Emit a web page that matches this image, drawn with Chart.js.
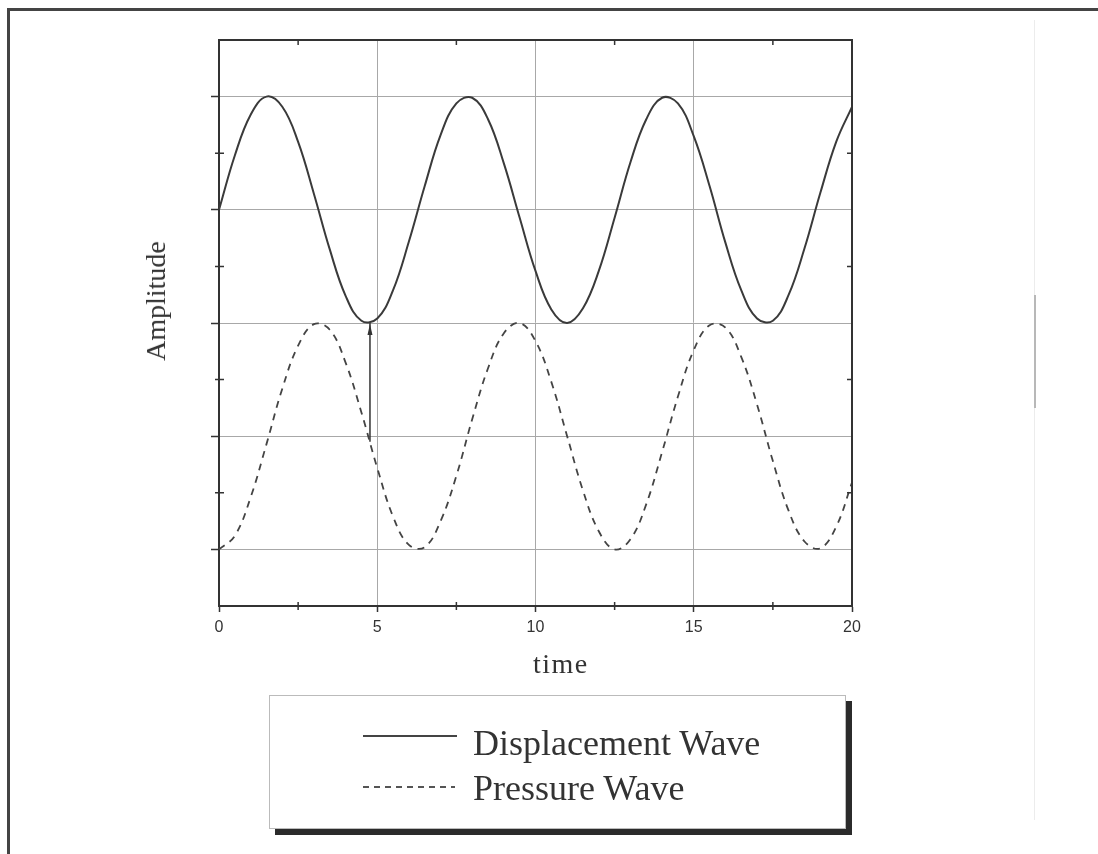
<!DOCTYPE html>
<html>
<head>
<meta charset="utf-8">
<script src="https://cdn.jsdelivr.net/npm/chart.js@4/dist/chart.umd.min.js"></script>
<style>
  html, body { margin: 0; padding: 0; background: #fff; }
  body { width: 1098px; height: 854px; position: relative; overflow: hidden; font-family: "Liberation Serif", "Times New Roman", serif; color: #333; }
  #frame { position: absolute; left: 7px; top: 8px; width: 1200px; height: 900px; border-top: 3px solid #444; border-left: 3px solid #444; }
  #scanLine { position: absolute; left: 1034px; top: 20px; width: 1px; height: 800px; background: #ececec; }
  #scanLineDark { position: absolute; left: 1034px; top: 295px; width: 2px; height: 113px; background: #b8b8b8; }
  canvas { position: absolute; left: 0; top: 0; }
  .txt { position: absolute; white-space: nowrap; color: #333; }
  #ampTitle { left: 155.5px; top: 301px; font-size: 28px; line-height: 28px; transform: translate(-50%, -50%) rotate(-90deg); }
  #timeTitle { left: 533px; top: 650px; font-size: 28px; line-height: 28px; letter-spacing: 1.5px; }
  #legendBox { position: absolute; left: 269px; top: 695px; width: 577px; height: 134px; box-sizing: border-box; border: 1px solid #bbb; box-shadow: 6px 6px 0 #2b2b2b; background: #fff; }
  .legText { font-size: 36px; line-height: 36px; left: 473px; }
  #solidSample { position: absolute; left: 363px; top: 735px; width: 94px; height: 2px; background: #444; }
  #dashSample { position: absolute; left: 363px; top: 786px; width: 92px; height: 2px; background: repeating-linear-gradient(90deg, #555 0 6px, transparent 6px 11px); }
</style>
</head>
<body>
<div id="frame"></div>
<div id="scanLine"></div>
<div id="scanLineDark"></div>
<canvas id="waveChart" width="1098" height="854"></canvas>
<div class="txt" id="ampTitle">Amplitude</div>
<div class="txt" id="timeTitle">time</div>
<div id="legendBox"></div>
<div id="solidSample"></div>
<div id="dashSample"></div>
<div class="txt legText" style="top:725px">Displacement Wave</div>
<div class="txt legText" style="top:770px">Pressure Wave</div>

<script>
// axis ticks
const timeTicks = [0, 5, 10, 15, 20];
const minorTimeTicks = [2.5, 7.5, 12.5, 17.5];
const ampGrid = [0, 1, 2, 3, 4];
const minorAmpTicks = [0.5, 1.5, 2.5, 3.5];

const timeSamples = [0, 0.5, 1, 1.5, 2, 2.5, 3, 3.5, 4, 4.5, 5, 5.5, 6, 6.5, 7, 7.5, 8, 8.5, 9, 9.5,
  10, 10.5, 11, 11.5, 12, 12.5, 13, 13.5, 14, 14.5, 15, 15.5, 16, 16.5, 17, 17.5, 18, 18.5, 19, 19.5, 20];
const displacement = [3.00, 3.48, 3.84, 4.00, 3.91, 3.60, 3.14, 2.65, 2.24, 2.02, 2.04, 2.29, 2.72, 3.21, 3.66, 3.94, 3.99, 3.80, 3.41, 2.93,
  2.46, 2.12, 2.00, 2.13, 2.46, 2.93, 3.42, 3.80, 3.99, 3.94, 3.65, 3.21, 2.71, 2.29, 2.04, 2.02, 2.25, 2.66, 3.15, 3.60, 3.91];
const pressure = [0.00, 0.12, 0.46, 0.93, 1.42, 1.80, 1.99, 1.94, 1.65, 1.21, 0.72, 0.29, 0.04, 0.02, 0.25, 0.65, 1.15, 1.60, 1.91, 2.00,
  1.84, 1.48, 1.00, 0.52, 0.16, 0.00, 0.09, 0.40, 0.86, 1.35, 1.76, 1.98, 1.96, 1.70, 1.28, 0.78, 0.34, 0.07, 0.01, 0.20, 0.59];

// the little arrow between the two waves
const markerTime = 4.77;
const markerSpan = [0.95, 2.0];

const pts = arr => timeSamples.map((t, i) => ({ x: t, y: arr[i] }));

// top/right frame, minor ticks, arrow head
const framePlugin = {
  id: "framePlugin",
  afterDatasetsDraw(chart) {
    const { ctx, chartArea: a, scales: { x, y } } = chart;
    ctx.save();
    ctx.strokeStyle = "#333";
    ctx.lineWidth = 2;
    ctx.beginPath();
    ctx.moveTo(a.left, a.top);
    ctx.lineTo(a.right, a.top);
    ctx.lineTo(a.right, a.bottom);
    ctx.stroke();

    ctx.lineWidth = 1.5;
    ctx.beginPath();
    minorTimeTicks.forEach(v => {
      const px = x.getPixelForValue(v);
      ctx.moveTo(px, a.bottom - 4); ctx.lineTo(px, a.bottom + 4);
      ctx.moveTo(px, a.top); ctx.lineTo(px, a.top + 5);
    });
    minorAmpTicks.forEach(v => {
      const py = y.getPixelForValue(v);
      ctx.moveTo(a.left - 4, py); ctx.lineTo(a.left + 5, py);
      ctx.moveTo(a.right - 5, py); ctx.lineTo(a.right, py);
    });
    ctx.stroke();

    const ax = x.getPixelForValue(markerTime);
    const ay = y.getPixelForValue(markerSpan[1]);
    ctx.fillStyle = "#333";
    ctx.beginPath();
    ctx.moveTo(ax, ay + 1);
    ctx.lineTo(ax - 2.5, ay + 12);
    ctx.lineTo(ax + 2.5, ay + 12);
    ctx.closePath();
    ctx.fill();
    ctx.restore();
  }
};

new Chart(document.getElementById("waveChart").getContext("2d"), {
  type: "line",
  data: {
    datasets: [
      {
        label: "Displacement Wave",
        data: pts(displacement),
        borderColor: "#3a3a3a",
        borderWidth: 2,
        pointRadius: 0,
        tension: 0.4
      },
      {
        label: "Pressure Wave",
        data: pts(pressure),
        borderColor: "#444",
        borderWidth: 1.8,
        borderDash: [7, 6],
        pointRadius: 0,
        tension: 0.4
      },
      {
        label: "marker",
        data: markerSpan.map(v => ({ x: markerTime, y: v })),
        borderColor: "#333",
        borderWidth: 1.5,
        pointRadius: 0
      }
    ]
  },
  options: {
    responsive: false,
    animation: false,
    devicePixelRatio: 1,
    layout: { padding: { left: 0, top: 40, right: 246, bottom: 168 } },
    plugins: { legend: { display: false }, tooltip: { enabled: false } },
    scales: {
      x: {
        type: "linear",
        min: 0,
        max: 20,
        afterBuildTicks: s => { s.ticks = timeTicks.map(v => ({ value: v })); },
        afterFit: s => { s.height = 80; },
        ticks: {
          color: "#333",
          padding: 6,
          font: { family: "'Liberation Sans', Arial, sans-serif", size: 16 }
        },
        grid: { color: "#a8a8a8", lineWidth: 1, drawTicks: true, tickLength: 6, tickColor: "#333", tickWidth: 1.5 },
        border: { display: true, color: "#333", width: 2 }
      },
      y: {
        type: "linear",
        min: -0.5,
        max: 4.5,
        afterBuildTicks: s => { s.ticks = ampGrid.map(v => ({ value: v })); },
        afterFit: s => { s.width = 219; },
        ticks: { display: false },
        grid: { color: "#a8a8a8", lineWidth: 1, drawTicks: true, tickLength: 8, tickColor: "#333", tickWidth: 1.5 },
        border: { display: true, color: "#333", width: 2 }
      }
    }
  },
  plugins: [framePlugin]
});
</script>
</body>
</html>
